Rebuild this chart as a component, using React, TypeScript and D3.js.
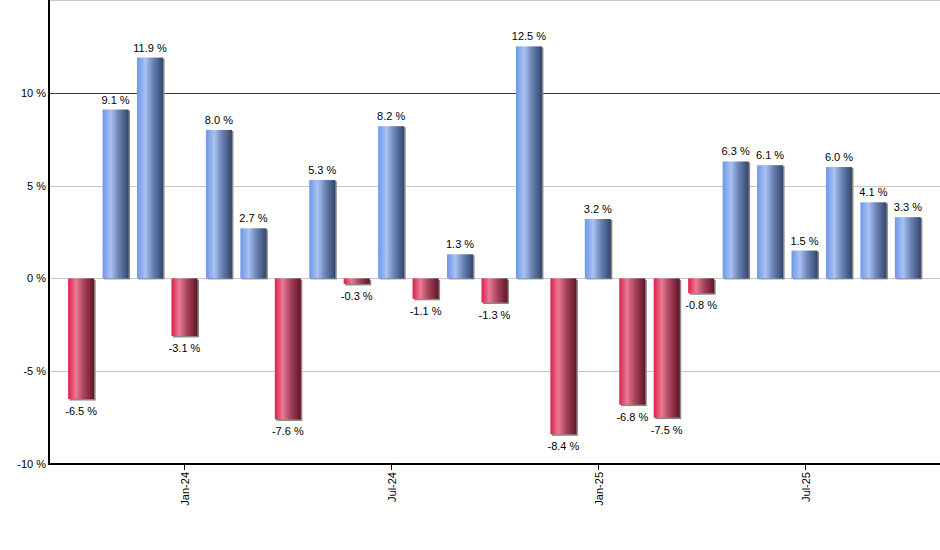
import React, { useEffect, useRef } from 'react';
import * as d3 from 'd3';

const months = [
  'Oct-23', 'Nov-23', 'Dec-23', 'Jan-24', 'Feb-24', 'Mar-24', 'Apr-24', 'May-24', 'Jun-24',
  'Jul-24', 'Aug-24', 'Sep-24', 'Oct-24', 'Nov-24', 'Dec-24', 'Jan-25', 'Feb-25', 'Mar-25',
  'Apr-25', 'May-25', 'Jun-25', 'Jul-25', 'Aug-25', 'Sep-25', 'Oct-25',
];
const returns = [
  -6.5, 9.1, 11.9, -3.1, 8.0, 2.7, -7.6, 5.3, -0.3, 8.2, -1.1, 1.3, -1.3, 12.5, -8.4, 3.2, -6.8,
  -7.5, -0.8, 6.3, 6.1, 1.5, 6.0, 4.1, 3.3,
];
const tickMonths = ['Jan-24', 'Jul-24', 'Jan-25', 'Jul-25'];
const yTicks = [-10, -5, 0, 5, 10];

const App: React.FC = () => {
  const svgRef = useRef<SVGSVGElement>(null);

  useEffect(() => {
    if (!svgRef.current) return;
    const svg = d3.select(svgRef.current);
    svg.selectAll('*').remove();

    const width = 940;
    const left = 49;
    const top = 0;
    const bottom = 464;

    const x = d3.scaleBand<string>()
      .domain(months)
      .range([64, 925])
      .paddingInner(0.245)
      .paddingOuter(0.12);
    const y = d3.scaleLinear().domain([-10, 15]).range([bottom, top]);

    // gradients
    const defs = svg.append('defs');
    const addGrad = (id: string, stops: [number, string][]) => {
      const g = defs.append('linearGradient').attr('id', id)
        .attr('x1', '0%').attr('x2', '100%').attr('y1', '0%').attr('y2', '0%');
      stops.forEach(([o, c]) => g.append('stop').attr('offset', `${o}%`).attr('stop-color', c));
    };
    addGrad('gPos', [[0, '#6d97e6'], [32, '#a9c2f2'], [60, '#6d86b8'], [100, '#33456b']]);
    addGrad('gNeg', [[0, '#dc1f4c'], [30, '#ea7b93'], [60, '#a8445e'], [100, '#601527']]);

    // grid
    const grid = svg.append('g');
    [15, 5, 0, -5].forEach(v => {
      grid.append('line')
        .attr('x1', left).attr('x2', width)
        .attr('y1', Math.round(y(v)) + 0.5).attr('y2', Math.round(y(v)) + 0.5)
        .attr('stroke', '#c8c8c8').attr('stroke-width', 1);
    });
    grid.append('line')
      .attr('x1', left).attr('x2', width)
      .attr('y1', Math.round(y(10)) + 0.5).attr('y2', Math.round(y(10)) + 0.5)
      .attr('stroke', '#006400').attr('stroke-width', 1);

    const bw = x.bandwidth();
    const bars = svg.append('g');
    returns.forEach((v, i) => {
      const bx = x(months[i])!;
      const y0 = y(Math.max(0, v));
      const h = Math.abs(y(v) - y(0));
      // shadow
      bars.append('rect')
        .attr('x', bx + 1.5).attr('y', y0 + (v >= 0 ? 1 : 1.5))
        .attr('width', bw).attr('height', h)
        .attr('fill', '#8a8a8a');
      bars.append('rect')
        .attr('x', bx).attr('y', y0)
        .attr('width', bw).attr('height', h)
        .attr('fill', v >= 0 ? 'url(#gPos)' : 'url(#gNeg)');
      bars.append('text')
        .attr('x', bx + bw / 2)
        .attr('y', v >= 0 ? y(v) - 6 : y(v) + 16)
        .attr('text-anchor', 'middle')
        .attr('font-size', 11)
        .attr('fill', '#000')
        .text(`${v.toFixed(1)} %`);
    });

    // axes
    const axes = svg.append('g').attr('stroke', '#000').attr('stroke-width', 2);
    axes.append('line').attr('x1', left).attr('x2', left).attr('y1', 0).attr('y2', bottom + 1);
    axes.append('line').attr('x1', left).attr('x2', width).attr('y1', bottom).attr('y2', bottom);

    yTicks.forEach(v => {
      svg.append('text')
        .attr('x', 46).attr('y', y(v) + 4)
        .attr('text-anchor', 'end')
        .attr('font-size', 11)
        .text(`${v} %`);
    });

    tickMonths.forEach(m => {
      const cx = Math.round(x(m)! + bw / 2) + 0.5;
      svg.append('line')
        .attr('x1', cx).attr('x2', cx).attr('y1', bottom).attr('y2', bottom + 6)
        .attr('stroke', '#000').attr('stroke-width', 1);
      svg.append('text')
        .attr('transform', `translate(${cx + 4},${bottom + 8}) rotate(-90)`)
        .attr('text-anchor', 'end')
        .attr('font-size', 11)
        .text(m);
    });
  }, []);

  return (
    <div style={{ position: 'fixed', left: 0, top: 0, width: 940, height: 550, background: '#fff' }}>
      <svg ref={svgRef} width={940} height={550}
        style={{ display: 'block', fontFamily: 'Arial, "Liberation Sans", sans-serif' }} />
    </div>
  );
};

export default App;
